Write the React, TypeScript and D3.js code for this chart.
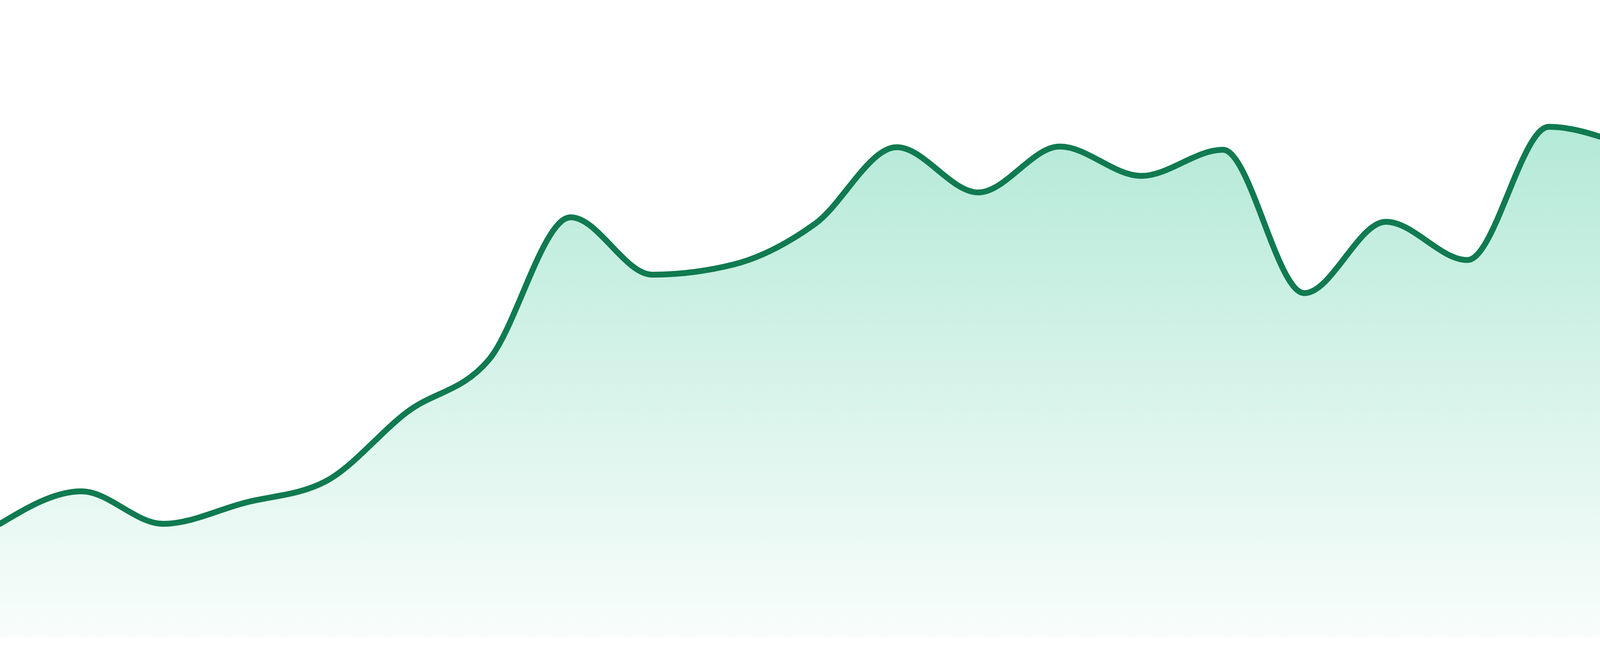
import React, { useRef, useEffect } from 'react';
import * as d3 from 'd3';

// sampled series, one value per step (left to right)
const steps = d3.range(24);
const values = [
  17.8, 22.9, 17.8, 21.1, 24.5, 35.4, 43.6, 65.9, 56.9, 58.5, 64.9, 76.9,
  69.8, 77.0, 72.4, 76.5, 54.0, 65.2, 59.2, 80.1, 77.0, 72.1, 87.5, 77.0,
];
const yDomain = [0, 100];

const WIDTH = 4800;
const HEIGHT = 1680;

const AreaChart: React.FC = () => {
  const svgRef = useRef<SVGSVGElement>(null);

  useEffect(() => {
    if (!svgRef.current) return;
    document.body.style.margin = '0';

    const margin = { top: 0, right: 0, bottom: 48, left: 0 };
    const innerWidth = WIDTH - margin.left - margin.right;
    const innerHeight = HEIGHT - margin.top - margin.bottom;

    const svg = d3.select(svgRef.current);
    svg.selectAll('*').remove();

    const data = steps.map((s, i) => ({ s, v: values[i] }));

    const x = d3.scaleLinear()
      .domain([0, steps.length - 1])
      .range([0, innerWidth]);

    const y = d3.scaleLinear()
      .domain(yDomain)
      .range([innerHeight, 0]);

    // soft green fade under the line
    const defs = svg.append('defs');
    const grad = defs.append('linearGradient')
      .attr('id', 'areaFade')
      .attr('x1', 0).attr('y1', 0)
      .attr('x2', 0).attr('y2', 1);
    grad.append('stop').attr('offset', '0%')
      .attr('stop-color', '#10b981').attr('stop-opacity', 0.34);
    grad.append('stop').attr('offset', '100%')
      .attr('stop-color', '#10b981').attr('stop-opacity', 0.025);

    const g = svg.append('g')
      .attr('transform', `translate(${margin.left},${margin.top})`);

    const area = d3.area<{ s: number; v: number }>()
      .x(d => x(d.s))
      .y0(innerHeight)
      .y1(d => y(d.v))
      .curve(d3.curveMonotoneX);

    const line = d3.line<{ s: number; v: number }>()
      .x(d => x(d.s))
      .y(d => y(d.v))
      .curve(d3.curveMonotoneX);

    g.append('path')
      .datum(data)
      .attr('d', area)
      .attr('fill', 'url(#areaFade)');

    g.append('path')
      .datum(data)
      .attr('d', line)
      .attr('fill', 'none')
      .attr('stroke', '#107a50')
      .attr('stroke-width', 15)
      .attr('stroke-linejoin', 'round')
      .attr('stroke-linecap', 'round');
  }, []);

  return (
    <svg
      ref={svgRef}
      width={WIDTH}
      height={HEIGHT}
      style={{ display: 'block', background: '#ffffff' }}
    ></svg>
  );
};

export default function App() {
  return <AreaChart />;
}
